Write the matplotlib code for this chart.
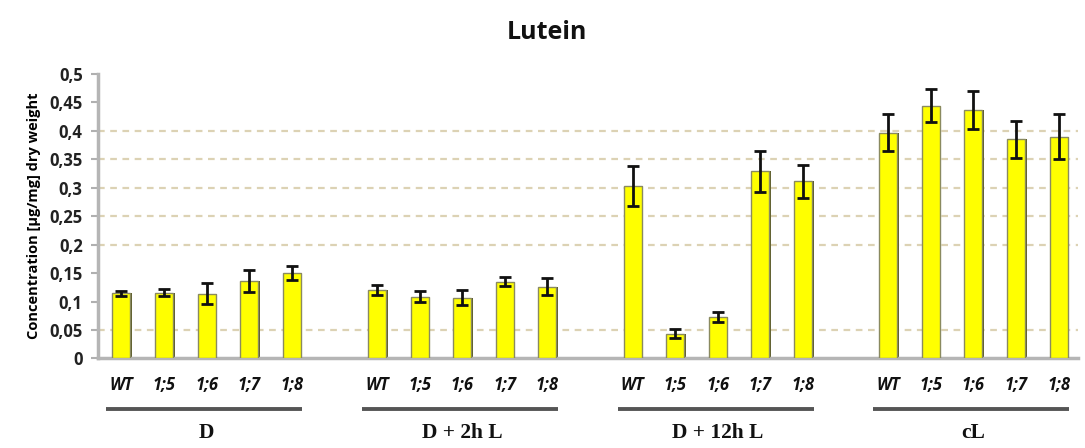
import numpy as np
import matplotlib.pyplot as plt

# Lutein concentration per line and light condition
lines = ['WT', '1;5', '1;6', '1;7', '1;8']
groups = ['D', 'D + 2h L', 'D + 12h L', 'cL']

lutein_D = [0.1145, 0.1155, 0.114, 0.136, 0.150]
lutein_D2hL = [0.1197, 0.1085, 0.1068, 0.135, 0.126]
lutein_D12hL = [0.303, 0.0435, 0.0722, 0.329, 0.311]
lutein_cL = [0.397, 0.444, 0.437, 0.385, 0.390]

err_D = [0.004, 0.006, 0.018, 0.019, 0.013]
err_D2hL = [0.009, 0.0097, 0.0135, 0.0085, 0.0146]
err_D12hL = [0.0345, 0.0073, 0.0088, 0.036, 0.0287]
err_cL = [0.033, 0.029, 0.033, 0.033, 0.039]

yticks = [0, 0.05, 0.1, 0.15, 0.2, 0.25, 0.3, 0.35, 0.4, 0.45, 0.5]
ytick_labels = ['0', '0,05', '0,1', '0,15', '0,2', '0,25', '0,3', '0,35', '0,4', '0,45', '0,5']
grid_levels = [0.05, 0.2, 0.25, 0.3, 0.35, 0.4]

values = [lutein_D, lutein_D2hL, lutein_D12hL, lutein_cL]
errors = [err_D, err_D2hL, err_D12hL, err_cL]

fig = plt.figure(figsize=(10.85, 4.48), dpi=100)
ax = fig.add_axes([0.0903, 0.2, 0.903, 0.635])

for g in grid_levels:
    ax.axhline(g, color='#dcd2b4', lw=1.6, ls=(0, (3, 2.5)), zorder=0)

n = len(lines)
for gi, (vals, errs) in enumerate(zip(values, errors)):
    x = np.arange(n) + gi * (n + 1)
    # darker shadow on the right side of each bar
    ax.bar(x + 0.04, vals, width=0.42, color='#5a5a2a', zorder=2)
    ax.bar(x, vals, width=0.42, color='#ffff00', edgecolor='#8a8a60',
           linewidth=1.0, zorder=3)
    ax.errorbar(x, vals, yerr=errs, fmt='none', ecolor='#111111',
                elinewidth=2, capsize=4, capthick=2, zorder=4)

    trans = ax.get_xaxis_transform()
    for xi, lab in zip(x, lines):
        ax.text(xi, -0.095, lab, transform=trans, ha='center', va='center',
                fontsize=12, fontstyle='italic', fontweight='bold',
                family='Open Sans', color='#111111')
    ax.plot([x[0] - 0.35, x[-1] + 0.25], [-0.178, -0.178], transform=trans,
            color='#555555', lw=2.8, clip_on=False, solid_capstyle='butt')
    ax.text(x.mean(), -0.262, groups[gi], transform=trans, ha='center',
            va='center', fontsize=15.5, fontweight='bold',
            family='Liberation Serif', color='#111111')

ax.set_xlim(-0.55, 22.45)
ax.set_ylim(0, 0.5)
ax.set_yticks(yticks)
ax.set_yticklabels(ytick_labels, fontsize=12, fontweight='bold',
                   family='Open Sans', color='#222222')
ax.set_xticks([])
ax.tick_params(axis='y', length=5, width=1.5, color='#b0b0b0', pad=6)

for s in ['top', 'right']:
    ax.spines[s].set_visible(False)
ax.spines['left'].set_color('#b5b5b5')
ax.spines['left'].set_linewidth(2.5)
ax.spines['bottom'].set_color('#b5b5b5')
ax.spines['bottom'].set_linewidth(2.5)

ax.set_ylabel('Concentration [\u00b5g/mg] dry weight', fontsize=10.5,
              fontweight='bold', family='Open Sans', labelpad=6)
fig.text(0.504, 0.928, 'Lutein', ha='center', va='center', fontsize=18,
         fontweight='bold', family='Open Sans', color='#111111')

fig.savefig('out.png', dpi=100)
